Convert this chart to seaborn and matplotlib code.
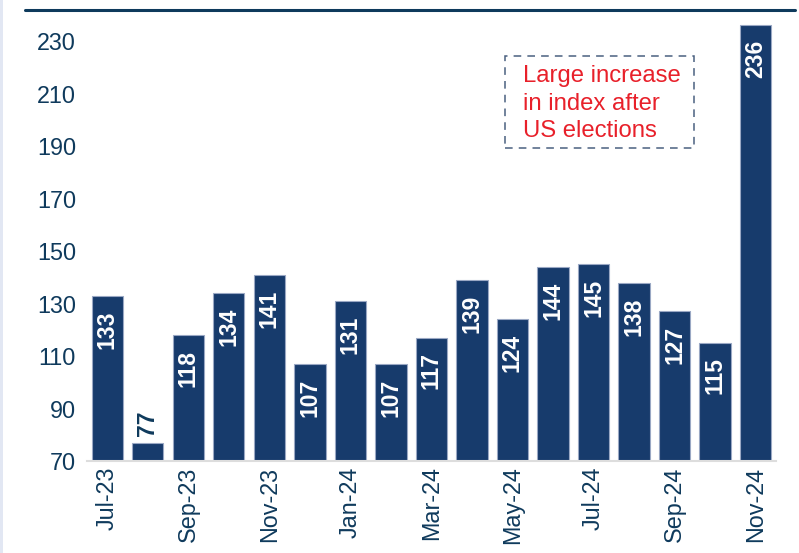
"""
Monthly index bar chart, Jul-23 to Nov-24.
"""

import matplotlib
matplotlib.use("Agg")
import matplotlib.pyplot as plt
from matplotlib.lines import Line2D
from matplotlib.patches import Rectangle
import seaborn as sns
import pandas as pd

months = ["Jul-23", "Aug-23", "Sep-23", "Oct-23", "Nov-23", "Dec-23",
          "Jan-24", "Feb-24", "Mar-24", "Apr-24", "May-24", "Jun-24",
          "Jul-24", "Aug-24", "Sep-24", "Oct-24", "Nov-24"]
values = [133, 77, 118, 134, 141, 107, 131, 107, 117, 139, 124, 144,
          145, 138, 127, 115, 236]
y_ticks = [70, 90, 110, 130, 150, 170, 190, 210, 230]
note = "Large increase\nin index after\nUS elections"

BAR = "#173b6c"
INK = "#0f3a5c"

sns.set_style("white")
plt.rcParams["font.family"] = ["Liberation Sans", "DejaVu Sans"]

df = pd.DataFrame({"month": months, "value": values})

fig = plt.figure(figsize=(7.99, 5.53), dpi=100)
ax = fig.add_axes([0.109, 0.1664, 0.862, 0.816])

sns.barplot(data=df, x="month", y="value", color=BAR, saturation=1,
            width=0.77, edgecolor="#9aa8c4", linewidth=0.8, ax=ax)

ax.set_ylim(70, 242)
ax.set_xlim(-0.5, len(months) - 0.5)
ax.set_yticks(y_ticks)
ax.set_xticks(range(0, len(months), 2))
ax.set_xticklabels(months[::2], rotation=90)
ax.tick_params(axis="both", length=0, labelsize=16.8, labelcolor=INK)
ax.tick_params(axis="y", pad=8)
ax.tick_params(axis="x", pad=4)
ax.set_xlabel("")
ax.set_ylabel("")

for s in ["top", "right", "left"]:
    ax.spines[s].set_visible(False)
ax.spines["bottom"].set_color("#dddddd")
ax.spines["bottom"].set_linewidth(1.5)

# value labels: inside the bar near the top, above it when the bar is short
for i, v in enumerate(values):
    if v - 70 > 20:
        ax.annotate(str(v), (i, v), xytext=(0, -10.5), textcoords="offset points",
                    ha="center", va="top", rotation=90, color="white",
                    fontsize=16.5, fontweight="bold")
    else:
        ax.annotate(str(v), (i, v), xytext=(0, 5), textcoords="offset points",
                    ha="center", va="bottom", rotation=90, color=INK,
                    fontsize=16.5, fontweight="bold")

# note with dashed frame
ax.add_patch(Rectangle((9.81, 189.2), 4.66, 35.0, facecolor="none",
                       edgecolor="#4a6080", linestyle=(0, (5, 4)),
                       linewidth=1.1, zorder=3))
ax.text(10.27, 220.9, note, ha="left", va="top", fontsize=17.2, color="#e8202a",
        linespacing=1.33, zorder=4)

# decorations
fig.add_artist(Line2D([0.031, 0.995], [0.982, 0.982], transform=fig.transFigure,
                      color="#0e3a5c", linewidth=2.2))
fig.add_artist(Rectangle((0, 0), 3 / 799, 1, transform=fig.transFigure,
                         facecolor="#e2e7f3", edgecolor="none"))

fig.savefig("out.png", dpi=100)
plt.close(fig)
